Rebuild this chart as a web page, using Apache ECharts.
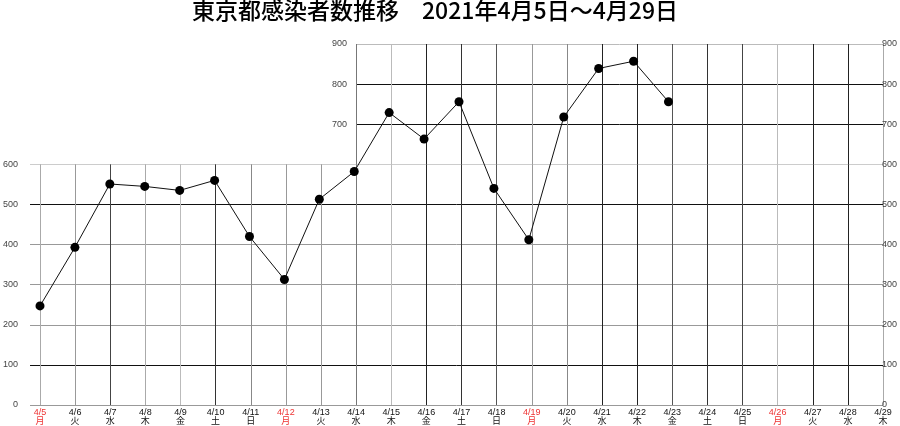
<!DOCTYPE html>
<html>
<head>
<meta charset="utf-8">
<script src="https://cdn.jsdelivr.net/npm/echarts@6/dist/echarts.min.js"></script>
<style>
html,body{margin:0;padding:0;background:#fff;}
#chart{width:900px;height:426px;}
</style>
</head>
<body>
<div id="chart"></div>
<script>
const titleText = '東京都感染者数推移　2021年4月5日～4月29日';
const categories = ['4/5','4/6','4/7','4/8','4/9','4/10','4/11','4/12','4/13','4/14','4/15','4/16','4/17','4/18','4/19','4/20','4/21','4/22','4/23','4/24','4/25','4/26','4/27','4/28','4/29'];
const weekdays = ['月','火','水','木','金','土','日','月','火','水','木','金','土','日','月','火','水','木','金','土','日','月','火','水','木'];
const cases = [247,393,551,545,535,560,420,313,513,582,729,663,756,540,412,718,839,857,756,null,null,null,null,null,null];
const yMin = 0, yMax = 900, yStep = 100;
const splitAt = 600;

// styles
const vColors = ['#aaa','#999','#444','#aaa','#bbb','#333','#888','#999','#999','#777','#bbb','#222','#333','#555','#999','#888','#222','#222','#555','#333','#444','#bbb','#222','#222','#aaa'];
const hColorsLow = ['#999','#111','#999','#999','#999','#111','#ccc'];
const hColorsHigh = ['#ccc','#111','#111','#bbb'];

const L = 40, R = 17, T = 44, B = 21, HL = 20;
const H = 426 - T - B;
const splitY = T + H * (yMax - splitAt) / (yMax - yMin);
const colW = (900 - R - L) / (categories.length - 1);
const topStartIdx = 9;
const topLeft = L + topStartIdx * colW;

const lblFont = {fontSize: 9, color: '#444', fontFamily: 'Liberation Sans, Arial, sans-serif'};

const chart = echarts.init(document.getElementById('chart'), null, {renderer: 'canvas'});
chart.setOption({
  animation: false,
  backgroundColor: '#fff',
  title: {
    text: titleText, left: 192, top: -1, padding: 0,
    textStyle: {fontSize: 23, fontWeight: 500, color: '#000', fontFamily: 'Noto Sans CJK JP, sans-serif'}
  },
  grid: [
    {left: L, right: R, top: T, bottom: B},
    {left: HL, right: R, top: splitY, bottom: B},
    {left: L, right: R, top: splitY, bottom: B},
    {left: topLeft, right: R, top: T, bottom: 426 - splitY}
  ],
  xAxis: [
    {gridIndex: 0, type: 'category', data: categories, boundaryGap: false, show: false},
    {gridIndex: 1, type: 'value', min: 0, max: 1, show: false},
    {gridIndex: 2, type: 'category', data: categories, boundaryGap: false,
      axisLine: {show: false}, axisTick: {show: false},
      splitLine: {show: true, lineStyle: {color: vColors, width: 1}},
      axisLabel: {
        interval: 0, margin: 3, fontSize: 9, lineHeight: 9,
        fontFamily: 'Liberation Sans, Noto Sans CJK JP, sans-serif',
        formatter: (v, i) => v + '\n' + weekdays[i],
        color: (v, i) => weekdays[i] === '月' ? '#ee3333' : '#111'
      }
    },
    {gridIndex: 3, type: 'category', data: categories.slice(topStartIdx), boundaryGap: false,
      axisLine: {show: false}, axisTick: {show: false}, axisLabel: {show: false},
      splitLine: {show: true, lineStyle: {color: vColors.slice(topStartIdx), width: 1}}
    }
  ],
  yAxis: [
    {gridIndex: 0, type: 'value', min: yMin, max: yMax, interval: yStep, position: 'right',
      axisLine: {show: false}, axisTick: {show: false}, splitLine: {show: false},
      axisLabel: Object.assign({margin: 4}, lblFont)},
    {gridIndex: 1, type: 'value', min: yMin, max: splitAt, interval: yStep, position: 'left',
      axisLine: {show: false}, axisTick: {show: false},
      splitLine: {show: true, lineStyle: {color: hColorsLow, width: 1}},
      axisLabel: Object.assign({margin: 12}, lblFont)},
    {gridIndex: 2, type: 'value', min: yMin, max: splitAt, interval: yStep, show: false},
    {gridIndex: 3, type: 'value', min: splitAt, max: yMax, interval: yStep, position: 'left',
      axisLine: {show: false}, axisTick: {show: false},
      splitLine: {show: true, lineStyle: {color: hColorsHigh, width: 1}},
      axisLabel: Object.assign({margin: 9, showMinLabel: false, formatter: v => v === splitAt ? '' : String(v)}, lblFont)}
  ],
  series: [{
    type: 'line', xAxisIndex: 0, yAxisIndex: 0, data: cases,
    symbol: 'circle', symbolSize: 9, showAllSymbol: true,
    lineStyle: {color: '#111', width: 1},
    itemStyle: {color: '#000'},
    z: 10
  }]
});
</script>
</body>
</html>
